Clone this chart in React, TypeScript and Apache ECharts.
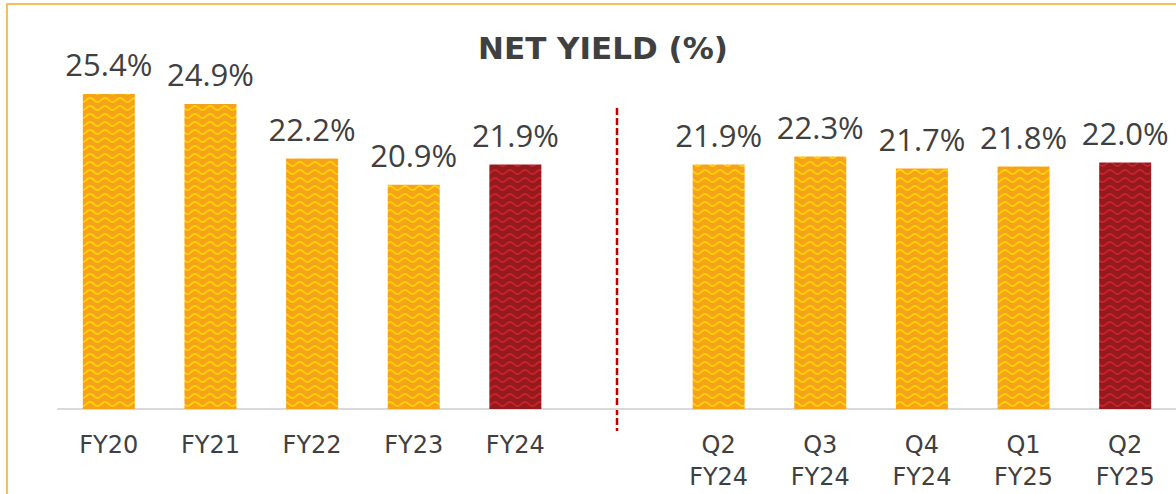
import React, { useEffect, useRef } from "react";
import * as echarts from "echarts";

const categories = ["FY20", "FY21", "FY22", "FY23", "FY24", "", "Q2\nFY24", "Q3\nFY24", "Q4\nFY24", "Q1\nFY25", "Q2\nFY25"];
const values: (number | null)[] = [25.4, 24.9, 22.2, 20.9, 21.9, null, 21.9, 22.3, 21.7, 21.8, 22.0];
const highlighted = ["FY24", "Q2\nFY25"];
const dividerIndex = 5;
const titleText = "NET YIELD (%)";

function makePattern(bg: string, fg: string) {
  const w = 15;
  const h = 8;
  const c = document.createElement("canvas");
  c.width = w;
  c.height = h;
  const ctx = c.getContext("2d")!;
  ctx.fillStyle = bg;
  ctx.fillRect(0, 0, w, h);
  ctx.strokeStyle = fg;
  ctx.lineWidth = 1.8;
  for (const off of [-h, 0, h]) {
    ctx.beginPath();
    for (let x = -1; x <= w + 1; x += 0.5) {
      const y = off + 4 - 2 * Math.cos((2 * Math.PI * x) / w);
      if (x === -1) ctx.moveTo(x, y);
      else ctx.lineTo(x, y);
    }
    ctx.stroke();
  }
  return { image: c, repeat: "repeat" as const };
}

export default function App() {
  const ref = useRef<HTMLDivElement>(null);
  useEffect(() => {
    if (!ref.current) return;
    const chart = echarts.init(ref.current, undefined, { renderer: "svg" });
    const orange = makePattern("#F7A21B", "#FFD400");
    const red = makePattern("#951A1E", "#C9232B");
    const data = values.map((v, i) =>
      v === null
        ? null
        : {
            value: v,
            itemStyle: { color: highlighted.includes(categories[i]) ? red : orange },
          }
    );
    chart.setOption({
      animation: false,
      title: {
        text: titleText,
        left: 598,
        top: 27,
        textAlign: "center",
        textStyle: {
          fontFamily: "DejaVu Sans",
          fontWeight: "bold",
          fontSize: 31,
          color: "#404040",
        },
      },
      grid: { left: 58, top: 5, width: 1123, height: 404 },
      xAxis: {
        type: "category",
        data: categories,
        axisLine: { show: true, lineStyle: { color: "#D9D9D9", width: 2 } },
        axisTick: { show: false },
        axisLabel: {
          interval: 0,
          margin: 20,
          fontFamily: "DejaVu Sans",
          fontSize: 24,
          lineHeight: 32,
          color: "#404040",
        },
      },
      yAxis: { type: "value", min: 9.8, max: 29.8, show: false, splitLine: { show: false } },
      series: [
        {
          type: "bar",
          data,
          barWidth: 52,
          label: {
            show: true,
            position: "top",
            distance: 14,
            fontFamily: "Open Sans",
            fontSize: 31,
            color: "#404040",
            formatter: (p: any) => Number(p.value).toFixed(1) + "%",
          },
        },
      ],
    });
    const x = chart.convertToPixel({ xAxisIndex: 0 }, dividerIndex) as number;
    chart.setOption({
      graphic: [
        {
          type: "rect",
          shape: { x: 7, y: 4, width: 1400, height: 700 },
          style: { fill: "none", stroke: "#F7BE59", lineWidth: 2 },
          silent: true,
        },
        {
          type: "line",
          shape: { x1: x, y1: 108, x2: x, y2: 431 },
          style: { stroke: "#C00000", lineWidth: 2.5, lineDash: [7, 3] },
          silent: true,
        },
      ],
    });
    return () => chart.dispose();
  }, []);
  return <div ref={ref} style={{ position: "absolute", left: 0, top: 0, width: 1176, height: 494 }} />;
}
